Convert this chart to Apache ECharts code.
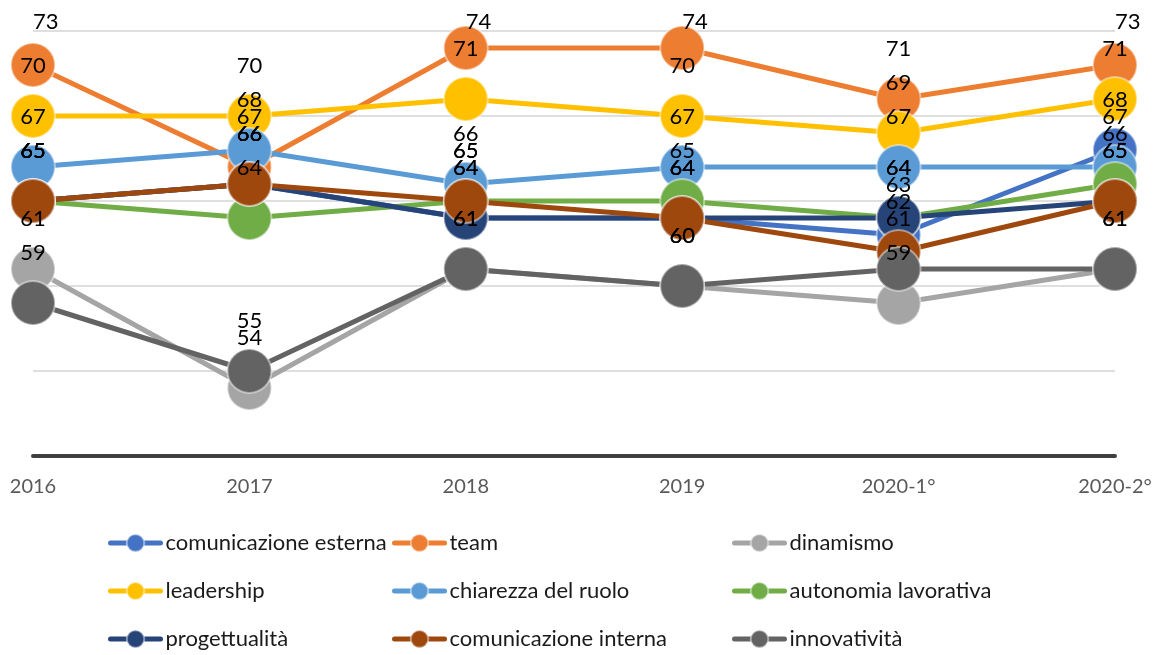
<!DOCTYPE html>
<html>
<head>
<meta charset="utf-8">
<script src="https://cdn.jsdelivr.net/npm/echarts@6/dist/echarts.min.js"></script>
<style>
    html, body { margin: 0; padding: 0; background: #fff; }
    #chart1 { width: 1161px; height: 655px; }
</style>
</head>
<body>
<div id="chart1"></div>
<script>
var categories = ['2016', '2017', '2018', '2019', '2020-1°', '2020-2°'];

var comunicazioneEsterna = [65, 66, 64, 64, 63, 68];
var team = [73, 67, 74, 74, 71, 73];
var dinamismo = [61, 54, 61, 60, 59, 61];
var leadership = [70, 70, 71, 70, 69, 71];
var chiarezzaRuolo = [67, 68, 66, 67, 67, 67];
var autonomiaLavorativa = [65, 64, 65, 65, 64, 66];
var progettualita = [65, 66, 64, 64, 64, 65];
var comunicazioneInterna = [65, 66, 65, 64, 62, 65];
var innovativita = [59, 55, 61, 60, 61, 61];

var seriesNames = ['comunicazione esterna', 'team', 'dinamismo', 'leadership', 'chiarezza del ruolo',
    'autonomia lavorativa', 'progettualità', 'comunicazione interna', 'innovatività'];
var seriesData = [comunicazioneEsterna, team, dinamismo, leadership, chiarezzaRuolo,
    autonomiaLavorativa, progettualita, comunicazioneInterna, innovativita];
var colors = ['#4472C4', '#ED7D31', '#A5A5A5', '#FFC000', '#5B9BD5',
    '#70AD47', '#264478', '#9E480E', '#636363'];

var chartDom1 = document.getElementById('chart1');
var myChart1 = echarts.init(chartDom1);
var option1;

var series = seriesNames.map(function (name, i) {
    return {
        name: name,
        type: 'line',
        data: seriesData[i],
        symbol: 'circle',
        symbolSize: 44,
        lineStyle: { width: 5, color: colors[i] },
        itemStyle: { color: colors[i], borderColor: 'rgba(255,255,255,0.45)', borderWidth: 2 },
        label: {
            show: true,
            position: 'top',
            distance: 16,
            color: '#000',
            fontFamily: 'Lato',
            fontSize: 22
        },
        labelLayout: function (params) {
            if (params.labelRect.y < 11) {
                return { y: 11, verticalAlign: 'top' };
            }
        },
        emphasis: { disabled: true },
        animation: false
    };
});

// three legend columns, like the 3x3 grid of the original
function legendColumn(left, names) {
    return {
        orient: 'vertical',
        left: left,
        top: 527,
        height: 200,
        itemWidth: 50,
        itemHeight: 22,
        itemGap: 26,
        data: names,
        lineStyle: { width: 5, cap: 'round' },
        textStyle: { color: '#1a1a1a', fontFamily: 'Lato', fontSize: 22 }
    };
}

option1 = {
    backgroundColor: '#fff',
    color: colors,
    grid: { left: 33, right: 46, top: 31, bottom: 199, containLabel: false },
    legend: [
        legendColumn(103, ['comunicazione esterna', 'leadership', 'progettualità']),
        legendColumn(387, ['team', 'chiarezza del ruolo', 'comunicazione interna']),
        legendColumn(727, ['dinamismo', 'autonomia lavorativa', 'innovatività'])
    ],
    xAxis: {
        type: 'category',
        boundaryGap: false,
        data: categories,
        axisTick: { show: false },
        axisLine: { lineStyle: { color: '#404040', width: 4 } },
        axisLabel: { color: '#595959', fontFamily: 'Lato', fontSize: 20, margin: 21 }
    },
    yAxis: {
        type: 'value',
        min: 50,
        max: 75,
        interval: 5,
        axisLabel: { show: false },
        axisLine: { show: false },
        axisTick: { show: false },
        splitLine: { lineStyle: { color: '#d4d4d4', width: 1.5 } }
    },
    series: series
};

option1 && myChart1.setOption(option1);
window.addEventListener('resize', myChart1.resize);
</script>
</body>
</html>
